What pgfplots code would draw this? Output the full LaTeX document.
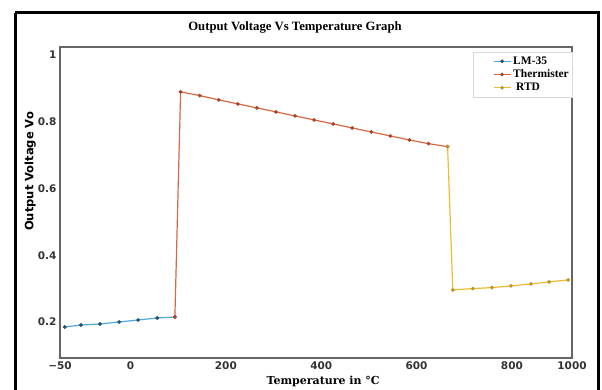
\documentclass[border=0pt]{standalone}
\usepackage{pgfplots}
\pgfplotsset{compat=1.18}
\usepackage{fontspec}
\setmainfont{Liberation Serif}
\newfontfamily\dvs{DejaVu Sans}
\newfontfamily\dvserif{DejaVu Serif}
\definecolor{lmblue}{RGB}{80,168,214}
\definecolor{lmmark}{RGB}{40,80,110}
\definecolor{thor}{RGB}{214,104,66}
\definecolor{thmark}{RGB}{170,70,45}
\definecolor{rtdy}{RGB}{238,188,50}
\definecolor{rtdmark}{RGB}{190,150,40}
\begin{document}
\begin{tikzpicture}
\path[use as bounding box] (0pt,0pt) rectangle (602pt,390pt);
\draw[line width=3pt, black] (15pt,377pt) -- (598pt,377pt) -- (598pt,-20pt);
\draw[line width=3pt, black] (15pt,377pt) -- (15pt,-20pt);
\node[font=\bfseries\fontsize{12.7}{14}\selectfont] at (295pt,362pt) {Output Voltage Vs Temperature Graph};
\begin{axis}[
  at={(60pt,32pt)}, anchor=south west,
  scale only axis, width=512pt, height=311pt,
  xmin=-148, xmax=926, ymin=0.0922, ymax=1.0234,
  axis line style={draw=black!60, line width=1.3pt},
  major tick length=0pt,
  xtick={-148,0,200,400,600,800,926},
  xticklabels={\raisebox{-3pt}{−50},0,200,400,600,800,\raisebox{2pt}{1000}},
  ytick={0.2,0.4,0.6,0.8,1},
  yticklabels={0.2,0.4,0.6,0.8,1},
  ticklabel style={font=\dvs\bfseries\fontsize{10.5}{12}\selectfont, text=black!80},
  xlabel={Temperature in °C},
  ylabel={Output Voltage Vo},
  xlabel style={at={(axis description cs:0.514,-0.074)}, anchor=center, font=\dvserif\bfseries\fontsize{11}{13}\selectfont},
  ylabel style={at={(axis description cs:-0.058,0.6)}, anchor=center, font=\dvs\bfseries\fontsize{11.5}{13}\selectfont},
  legend style={at={(1,0.984)}, anchor=north east, draw=black!15, fill=white,
    inner xsep=1pt, inner ysep=2.5pt, row sep=0pt, font=\bfseries\fontsize{11.5}{13.5}\selectfont},
  legend cell align=left,
  legend image code/.code={\path (-19pt,0pt); \draw[#1, mark repeat=2, mark phase=2] plot coordinates {(0pt,0pt) (8.5pt,0pt) (17pt,0pt)};},
  every axis plot/.append style={line width=1.2pt, mark=*, mark size=1.2pt},
]
\addplot[color=lmblue, mark options={fill=lmmark, draw=lmmark}] coordinates {
(-138,0.185) (-104,0.191) (-64,0.194) (-24,0.200) (16,0.206) (56,0.212) (93,0.215)};
\addlegendentry{LM-35}
\addplot[color=thor, mark options={fill=thmark, draw=thmark}] coordinates {
(93,0.215) (105,0.889) (145,0.878) (185,0.865) (225,0.853) (265,0.841) (305,0.829) (345,0.817) (385,0.805) (425,0.793) (465,0.781) (505,0.769) (545,0.757) (585,0.745) (625,0.734) (665,0.725)};
\addlegendentry{Thermister}
\addplot[color=rtdy, mark options={fill=rtdmark, draw=rtdmark}] coordinates {
(665,0.725) (676,0.296) (718,0.300) (758,0.303) (798,0.308) (840,0.314) (878,0.320) (918,0.326)};
\addlegendentry{\ RTD}
\end{axis}
\end{tikzpicture}
\end{document}
